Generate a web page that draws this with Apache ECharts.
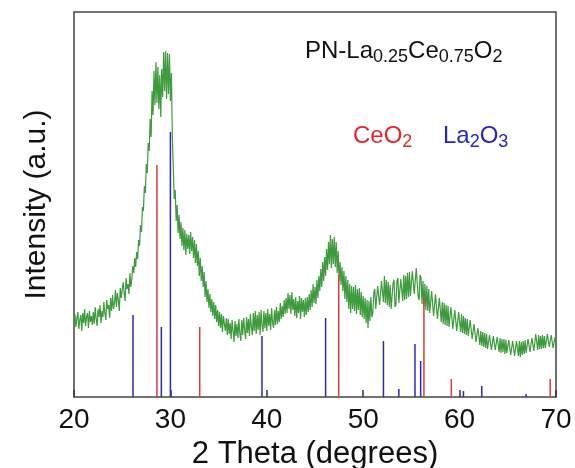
<!DOCTYPE html>
<html>
<head>
<meta charset="utf-8">
<script src="https://cdn.jsdelivr.net/npm/echarts@6/dist/echarts.min.js"></script>
<style>
  html, body { margin: 0; padding: 0; background: #fff; }
  #chart { width: 575px; height: 468px; }
</style>
</head>
<body>
<div id="chart"></div>
<script>
// XRD scan: 2θ from 20° in 0.1° steps
const scanStart = 20;
const scanStep = 0.1;
const intensity = [
  72, 83, 70, 79, 85, 68, 77, 82, 66, 84,
  74, 88, 71, 80, 84, 69, 86, 75, 81, 72,
  85, 73, 90, 78, 71, 88, 80, 92, 74, 86,
  80, 95, 84, 77, 97, 88, 92, 79, 99, 86,
  102, 88, 94, 107, 90, 104, 97, 86, 109, 99,
  100, 115, 104, 96, 119, 108, 113, 103, 124, 110,
  118, 131, 124, 139, 130, 145, 138, 157, 151, 172,
  165, 190, 186, 211, 204, 233, 224, 254, 246, 278,
  260, 306, 282, 326, 292, 335, 294, 330, 288, 322,
  280, 328, 300, 345, 306, 346, 298, 344, 303, 343,
  296, 324, 262, 228, 198, 207, 176, 192, 164, 182,
  158, 175, 151, 169, 147, 167, 142, 163, 148, 162,
  143, 165, 146, 160, 139, 157, 134, 153, 131, 146,
  121, 139, 116, 131, 110, 125, 100, 116, 95, 108,
  89, 103, 85, 98, 81, 95, 78, 92, 75, 87,
  71, 85, 69, 83, 65, 81, 73, 66, 79, 62,
  78, 63, 74, 58, 77, 66, 55, 76, 61, 73,
  59, 78, 64, 56, 77, 62, 79, 67, 58, 80,
  64, 78, 61, 83, 70, 62, 84, 66, 86, 63,
  82, 67, 85, 62, 87, 72, 65, 86, 69, 84,
  66, 88, 71, 83, 67, 89, 74, 69, 87, 72,
  90, 73, 86, 75, 94, 78, 91, 80, 97, 83,
  99, 84, 104, 88, 102, 83, 105, 87, 98, 81,
  100, 79, 96, 84, 101, 78, 99, 85, 97, 80,
  99, 82, 100, 85, 103, 87, 107, 90, 113, 94,
  110, 93, 117, 99, 121, 106, 128, 110, 135, 116,
  140, 121, 148, 127, 155, 133, 162, 129, 158, 133,
  160, 130, 155, 124, 146, 116, 135, 112, 130, 106,
  126, 98, 121, 95, 117, 88, 113, 84, 111, 88,
  110, 86, 112, 83, 108, 87, 109, 82, 105, 80,
  101, 78, 99, 74, 97, 69, 96, 76, 100, 80,
  84, 104, 108, 88, 90, 111, 113, 92, 94, 116,
  118, 95, 121, 94, 117, 92, 115, 90, 112, 88,
  87, 114, 117, 90, 93, 116, 119, 94, 95, 118,
  120, 96, 122, 97, 121, 98, 124, 100, 125, 101,
  102, 126, 127, 103, 104, 129, 127, 101, 97, 122,
  119, 93, 116, 90, 113, 87, 111, 86, 108, 84,
  82, 106, 104, 81, 79, 103, 101, 78, 76, 99,
  97, 75, 95, 73, 94, 72, 92, 71, 91, 70,
  69, 90, 89, 68, 67, 87, 86, 66, 67, 85,
  84, 65, 83, 64, 81, 63, 79, 62, 78, 61,
  60, 77, 75, 58, 56, 73, 71, 55, 53, 69,
  67, 52, 66, 51, 65, 50, 64, 49, 63, 48,
  47, 62, 61, 47, 46, 61, 60, 47, 45, 60,
  59, 45, 59, 44, 58, 45, 58, 43, 57, 44,
  43, 57, 57, 42, 43, 56, 56, 41, 42, 56,
  55, 41, 56, 40, 55, 42, 56, 43, 57, 44,
  44, 58, 59, 45, 46, 59, 60, 46, 47, 63,
  61, 47, 62, 48, 61, 48, 62, 49, 61, 49,
  50, 63, 61, 50, 50, 62, 61, 49, 50, 60,
  52
];

// Reference patterns (stick positions in 2θ and relative heights)
const ceo2Angles  = [28.6, 33.04, 47.46, 56.3, 59.14, 69.4];
const ceo2Heights = [232, 70, 122, 99, 18, 18];
const la2o3Angles  = [26.12, 29.06, 30.0, 39.5, 46.1, 52.1, 53.7, 55.37, 55.96, 60.4, 62.3, 66.9];
const la2o3Heights = [82, 70, 265, 61, 79, 56, 8, 53, 36, 6, 11, 3];

const xMin = 20, xMax = 70, xInterval = 10;

const FONT = '"Liberation Sans", Arial, sans-serif';

const pattern = intensity.map((v, i) => [+(scanStart + i * scanStep).toFixed(2), v]);
const sticks = (angles, heights) => angles.map((a, i) => [a, heights[i]]);

function stickRenderer(color) {
  return function (params, api) {
    const base = api.coord([api.value(0), 0]);
    const top = api.coord([api.value(0), api.value(1)]);
    return {
      type: 'line',
      shape: { x1: base[0], y1: base[1], x2: top[0], y2: top[1] },
      style: { stroke: color, lineWidth: 1.5 }
    };
  };
}

const chart = echarts.init(document.getElementById('chart'), null, { renderer: 'canvas' });

chart.setOption({
  animation: false,
  backgroundColor: '#fff',
  grid: {
    left: 74, right: 19, top: 12, bottom: 71,
    containLabel: false,
    outerBoundsMode: 'none',
    show: true, borderColor: '#444', borderWidth: 1.5, backgroundColor: 'transparent'
  },
  xAxis: {
    type: 'value',
    min: xMin, max: xMax, interval: xInterval,
    name: '2 Theta (degrees)',
    nameLocation: 'middle',
    nameGap: 34,
    nameTextStyle: { fontSize: 31, color: '#111', fontFamily: FONT },
    axisLine: { show: false },
    axisTick: { show: true, inside: true, length: 7, lineStyle: { color: '#333', width: 1.5 } },
    axisLabel: { fontSize: 28, color: '#111', fontFamily: FONT, margin: 9 },
    splitLine: { show: false }
  },
  yAxis: {
    type: 'value',
    min: 0, max: 385,
    name: 'Intensity (a.u.)',
    nameLocation: 'middle',
    nameGap: 22,
    nameTextStyle: { fontSize: 30, color: '#111', fontFamily: FONT },
    axisLine: { show: false },
    axisTick: { show: false },
    axisLabel: { show: false },
    splitLine: { show: false }
  },
  series: [
    {
      name: 'PN-La0.25Ce0.75O2',
      type: 'line',
      data: pattern,
      showSymbol: false,
      symbol: 'none',
      lineStyle: { color: '#3d9b3d', width: 1.2 },
      z: 2
    },
    {
      name: 'CeO2',
      type: 'custom',
      data: sticks(ceo2Angles, ceo2Heights),
      renderItem: stickRenderer('#dd3c3c'),
      z: 3
    },
    {
      name: 'La2O3',
      type: 'custom',
      data: sticks(la2o3Angles, la2o3Heights),
      renderItem: stickRenderer('#2b2bb5'),
      z: 3
    }
  ],
  graphic: [
    {
      type: 'text', left: 305, top: 39,
      style: {
        text: '{m|PN-La}{s|0.25}{m|Ce}{s|0.75}{m|O}{s|2}',
        fill: '#111',
        rich: {
          m: { fontSize: 24, lineHeight: 30, fontFamily: FONT, fill: '#111' },
          s: { fontSize: 18, lineHeight: 16, verticalAlign: 'bottom', fontFamily: FONT, fill: '#111' }
        }
      }
    },
    {
      type: 'text', left: 353, top: 124,
      style: {
        text: '{m|CeO}{s|2}',
        rich: {
          m: { fontSize: 24, lineHeight: 30, fontFamily: FONT, fill: '#e8262a' },
          s: { fontSize: 18, lineHeight: 16, verticalAlign: 'bottom', fontFamily: FONT, fill: '#e8262a' }
        }
      }
    },
    {
      type: 'text', left: 443, top: 124,
      style: {
        text: '{m|La}{s|2}{m|O}{s|3}',
        rich: {
          m: { fontSize: 24, lineHeight: 30, fontFamily: FONT, fill: '#2626c8' },
          s: { fontSize: 18, lineHeight: 16, verticalAlign: 'bottom', fontFamily: FONT, fill: '#2626c8' }
        }
      }
    }
  ]
});
</script>
</body>
</html>
